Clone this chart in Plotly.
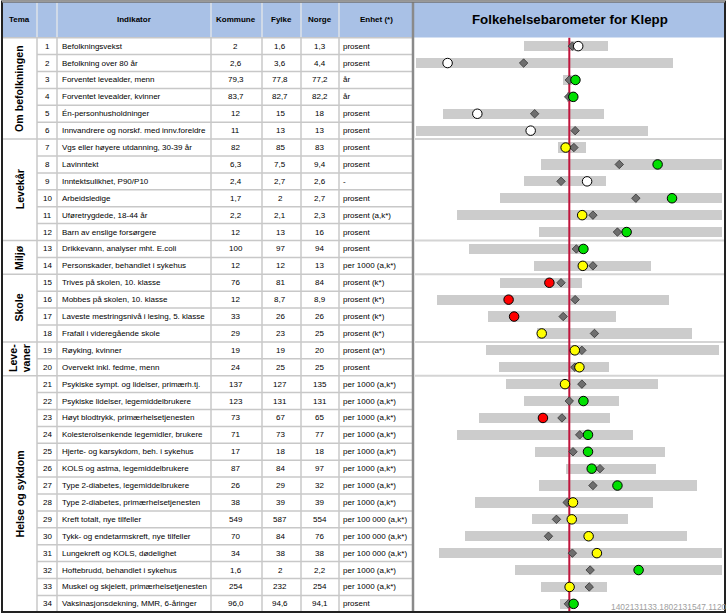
import plotly.graph_objects as go

W, H = 727, 614
ROW_TOP, ROW_H = 37.7, 16.9

# ---------------- data ----------------
tema_labels = ["Om befolkningen", "Levekår", "Miljø", "Skole", "Leve-<br>vaner", "Helse og sykdom"]
tema_first = [1, 7, 13, 15, 19, 21]
tema_last = [6, 12, 14, 18, 20, 34]

indikator = [
    "Befolkningsvekst", "Befolkning over 80 år", "Forventet levealder, menn",
    "Forventet levealder, kvinner", "Én-personhusholdninger",
    "Innvandrere og norskf. med innv.foreldre",
    "Vgs eller høyere utdanning, 30-39 år", "Lavinntekt", "Inntektsulikhet, P90/P10",
    "Arbeidsledige", "Uføretrygdede, 18-44 år", "Barn av enslige forsørgere",
    "Drikkevann, analyser mht. E.coli", "Personskader, behandlet i sykehus",
    "Trives på skolen, 10. klasse", "Mobbes på skolen, 10. klasse",
    "Laveste mestringsnivå i lesing, 5. klasse", "Frafall i videregående skole",
    "Røyking, kvinner", "Overvekt inkl. fedme, menn",
    "Psykiske sympt. og lidelser, primærh.tj.", "Psykiske lidelser, legemiddelbrukere",
    "Høyt blodtrykk, primærhelsetjenesten", "Kolesterolsenkende legemidler, brukere",
    "Hjerte- og karsykdom, beh. i sykehus", "KOLS og astma, legemiddelbrukere",
    "Type 2-diabetes, legemiddelbrukere", "Type 2-diabetes, primærhelsetjenesten",
    "Kreft totalt, nye tilfeller", "Tykk- og endetarmskreft, nye tilfeller",
    "Lungekreft og KOLS, dødelighet", "Hoftebrudd, behandlet i sykehus",
    "Muskel og skjelett, primærhelsetjenesten", "Vaksinasjonsdekning, MMR, 6-åringer",
]
kommune = ["2", "2,6", "79,3", "83,7", "12", "11", "82", "6,3", "2,4", "1,7", "2,2", "12",
           "100", "12", "76", "12", "33", "29", "19", "24", "137", "123", "73", "71", "17",
           "87", "26", "38", "549", "70", "34", "1,6", "254", "96,0"]
fylke = ["1,6", "3,6", "77,8", "82,7", "15", "13", "85", "7,5", "2,7", "2", "2,1", "13",
         "97", "12", "81", "8,7", "26", "23", "19", "25", "127", "131", "67", "73", "18",
         "84", "29", "39", "587", "84", "38", "2", "232", "94,6"]
norge = ["1,3", "4,4", "77,2", "82,2", "18", "13", "83", "9,4", "2,6", "2,7", "2,3", "16",
         "94", "13", "84", "8,9", "26", "25", "20", "25", "135", "131", "65", "77", "18",
         "97", "32", "39", "554", "76", "38", "2,2", "254", "94,1"]
p1k = "per 1000 (a,k*)"
p100k = "per 100 000 (a,k*)"
enhet = ["prosent", "prosent", "år", "år", "prosent", "prosent", "prosent", "prosent", "-",
         "prosent", "prosent (a,k*)", "prosent", "prosent", p1k, "prosent (k*)",
         "prosent (k*)", "prosent (k*)", "prosent (k*)", "prosent (a*)", "prosent",
         p1k, p1k, p1k, p1k, p1k, p1k, p1k, p1k, p100k, p100k, p100k, p1k, p1k, "prosent"]

# barometer (standardised scale, Norge = 50)
norge_ref = 50
bar_lo = [35.2, 0, 48.0, 49.2, 8.8, 0, 46.4, 40.8, 35.1, 27.4, 13.5, 40.2, 17.4, 38.6,
          27.5, 6.8, 23.4, 39.4, 22.9, 27.2, 29.4, 35.2, 20.6, 13.4, 38.9, 49.0, 40.0,
          19.2, 37.7, 16.1, 7.5, 32.3, 40.8, 47.1]
bar_hi = [62.5, 83.7, 50.9, 51.2, 61.2, 75.6, 55.5, 99.8, 62.1, 99.8, 99.8, 99.8, 54.6,
          76.5, 54.2, 82.4, 65.1, 89.9, 98.7, 62.9, 79.0, 66.2, 63.4, 70.9, 81.1, 78.2,
          91.6, 77.4, 69.2, 88.3, 99.8, 99.8, 62.3, 51.2]
fylke_pos = [51.0, 35.1, 50.0, 49.8, 38.7, 51.9, 51.5, 66.3, 47.3, 71.7, 57.7, 65.7, 52.3,
             57.7, 47.3, 51.9, 48.0, 58.2, 54.1, 51.8, 54.1, 50.0, 47.6, 53.4, 51.2, 60.0,
             57.7, 49.3, 45.8, 43.2, 51.0, 56.8, 56.5, 49.7]
kommune_pos = [52.9, 10.3, 52.0, 51.3, 20.0, 37.4, 48.8, 78.8, 55.8, 83.5, 54.2, 68.7,
               54.6, 54.4, 43.5, 30.2, 32.0, 41.0, 51.8, 53.3, 48.6, 54.6, 41.4, 56.1,
               56.1, 57.3, 65.7, 51.2, 50.8, 56.3, 59.0, 72.6, 50.1, 51.4]
kommune_farge = ["hvit", "hvit", "grønn", "grønn", "hvit", "hvit", "gul", "grønn", "hvit",
                 "grønn", "gul", "grønn", "grønn", "gul", "rød", "rød", "rød", "gul", "gul",
                 "gul", "gul", "grønn", "rød", "grønn", "grønn", "grønn", "grønn", "gul",
                 "gul", "gul", "gul", "grønn", "gul", "grønn"]
farge_map = {"hvit": "#FFFFFF", "grønn": "#00E000", "gul": "#FFFF00", "rød": "#FF0000"}

rows = list(range(1, len(indikator) + 1))

# ---------------- helpers (layout only) ----------------
def px(x):
    return x / W

def py(y):
    return 1 - y / H

def prow(p):
    return (p - ROW_TOP) / ROW_H + 0.5

FONT = "Liberation Sans, Arial, sans-serif"
GRID = "#C8C8C8"
HEADER = "#A9C1E6"

fig = go.Figure()

# gray range bars
fig.add_trace(go.Bar(
    y=rows, x=[h - l for l, h in zip(bar_lo, bar_hi)], base=bar_lo, orientation="h",
    marker=dict(color="#CCCCCC", line=dict(width=0)), width=0.6, hoverinfo="skip",
))
# Norge reference line
fig.add_trace(go.Scatter(
    x=[norge_ref, norge_ref], y=[0.5, 34.5], mode="lines",
    line=dict(color="#C0143C", width=2), hoverinfo="skip",
))
# fylke diamonds
fig.add_trace(go.Scatter(
    x=fylke_pos, y=rows, mode="markers", cliponaxis=False,
    marker=dict(symbol="diamond", size=6.5, color="#6E6E6E", line=dict(color="#333333", width=0.8)),
))
# kommune circles
fig.add_trace(go.Scatter(
    x=kommune_pos, y=rows, mode="markers", cliponaxis=False,
    marker=dict(symbol="circle", size=9.5, color=[farge_map[c] for c in kommune_farge],
                line=dict(color="#000000", width=1)),
))

shapes = []
annotations = []

# header background
shapes.append(dict(type="rect", xref="paper", yref="paper", x0=px(2), x1=px(725),
                   y0=py(37.5), y1=py(1.5), fillcolor=HEADER, line=dict(width=0), layer="below"))

# vertical column lines
col_x = [37, 57, 211, 262, 301, 339]
for cx in col_x:
    shapes.append(dict(type="line", xref="paper", yref="paper", x0=px(cx), x1=px(cx),
                       y0=py(2), y1=py(612), line=dict(color=GRID, width=1.5), layer="below"))
# header internal separators lighter
for cx in col_x:
    shapes.append(dict(type="line", xref="paper", yref="paper", x0=px(cx), x1=px(cx),
                       y0=py(3), y1=py(37), line=dict(color="#D6E0F0", width=1.5), layer="below"))

# horizontal row lines
group_bounds = [l for l in tema_last[:-1]]
for k in range(0, 34):
    yk = k + 0.5
    x0 = 2 if (k in group_bounds or k == 0) else 37
    shapes.append(dict(type="line", xref="paper", yref="y", x0=px(x0), x1=px(412),
                       y0=yk, y1=yk, line=dict(color=GRID, width=1.5), layer="below"))
    if k in group_bounds:
        shapes.append(dict(type="line", xref="paper", yref="y", x0=px(415), x1=px(724),
                           y0=yk, y1=yk, line=dict(color="#D4D4D4", width=2), layer="below"))

# separator between table and chart
shapes.append(dict(type="line", xref="paper", yref="paper", x0=px(413), x1=px(413),
                   y0=py(1), y1=py(613), line=dict(color="#8A8A8A", width=2.5)))
# outer frame
shapes.append(dict(type="rect", xref="paper", yref="paper", x0=px(2), x1=px(725),
                   y0=py(612), y1=py(1.5), line=dict(color="#222222", width=2), fillcolor="rgba(0,0,0,0)"))
shapes.append(dict(type="line", xref="paper", yref="paper", x0=px(2), x1=px(725),
                   y0=py(1.5), y1=py(1.5), line=dict(color="#9A9A9A", width=2)))

# header texts
hdr_y = py(19.5)
hdr_font = dict(family=FONT, size=8, color="#000")
for txt, cx in [("Tema", 19.5), ("Indikator", 134), ("Kommune", 236), ("Fylke", 281.5),
                ("Norge", 320), ("Enhet (*)", 376)]:
    annotations.append(dict(text=f"<b>{txt}</b>", x=px(cx), y=hdr_y, xref="paper", yref="paper",
                            showarrow=False, font=hdr_font, xanchor="center", yanchor="middle"))
annotations.append(dict(text="<b>Folkehelsebarometer for Klepp</b>", x=px(570), y=py(19.5),
                        xref="paper", yref="paper", showarrow=False,
                        font=dict(family=FONT, size=13.3, color="#000"),
                        xanchor="center", yanchor="middle"))

# body texts
body_font = dict(family=FONT, size=8, color="#000")
for i, r in enumerate(rows):
    annotations.append(dict(text=str(r), x=px(47.5), y=r, xref="paper", yref="y",
                            showarrow=False, font=body_font, xanchor="center", yanchor="middle"))
    annotations.append(dict(text=indikator[i], x=px(59.5), y=r, xref="paper", yref="y",
                            showarrow=False, font=body_font, xanchor="left", yanchor="middle"))
    annotations.append(dict(text=kommune[i], x=px(236), y=r, xref="paper", yref="y",
                            showarrow=False, font=body_font, xanchor="center", yanchor="middle"))
    annotations.append(dict(text=fylke[i], x=px(280), y=r, xref="paper", yref="y",
                            showarrow=False, font=body_font, xanchor="center", yanchor="middle"))
    annotations.append(dict(text=norge[i], x=px(319.5), y=r, xref="paper", yref="y",
                            showarrow=False, font=body_font, xanchor="center", yanchor="middle"))
    annotations.append(dict(text=enhet[i], x=px(340.5), y=r, xref="paper", yref="y",
                            showarrow=False, font=body_font, xanchor="left", yanchor="middle"))

# tema labels (rotated)
for lab, a, b in zip(tema_labels, tema_first, tema_last):
    annotations.append(dict(text=f"<b>{lab}</b>", x=px(19.5), y=(a + b) / 2, xref="paper", yref="y",
                            showarrow=False, textangle=-90,
                            font=dict(family=FONT, size=10.6, color="#000"),
                            xanchor="center", yanchor="middle"))

# footer id
annotations.append(dict(text="1402131133.1802131547.1120", x=px(609), y=py(606.5), xref="paper",
                        yref="paper", showarrow=False, font=dict(family=FONT, size=8.4, color="#A0A0A0"),
                        xanchor="left", yanchor="middle"))

fig.update_layout(
    width=W, height=H, margin=dict(l=0, r=0, t=0, b=0),
    paper_bgcolor="white", plot_bgcolor="rgba(0,0,0,0)",
    showlegend=False, bargap=0,
    xaxis=dict(domain=[px(416), px(722)], range=[0, 99.8], visible=False, fixedrange=True),
    yaxis=dict(domain=[0, 1], range=[prow(H), prow(0)], visible=False, fixedrange=True),
    shapes=shapes, annotations=annotations,
)

fig.write_html("out.html", config={"displayModeBar": False},
               post_script="document.body.style.margin='0';document.body.style.overflow='hidden';")
